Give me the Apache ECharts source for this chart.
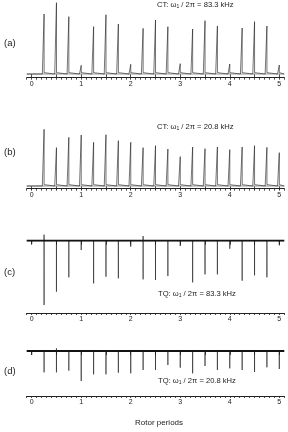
<!DOCTYPE html>
<html><head><meta charset="utf-8">
<script src="https://cdn.jsdelivr.net/npm/echarts@6/dist/echarts.min.js"></script>
<style>html,body{margin:0;padding:0;background:#fff}#c{width:288px;height:432px}</style>
</head><body><div id="c"></div>
<script>
// Rotor period positions of the spikes
const positions = [0,0.25,0.5,0.75,1,1.25,1.5,1.75,2,2.25,2.5,2.75,3,3.25,3.5,3.75,4,4.25,4.5,4.75,5];
// Spike intensities (arbitrary units)
const ctHigh = [0,180,214,172,26,142,178,150,29,137,162,142,31,135,160,144,30,138,157,144,27];
const ctLow  = [0,170,115,146,153,131,154,136,131,115,121,111,88,117,112,117,109,117,121,116,100];
const tqHigh = [-10,-193,-153,-110,-28,-128,-108,-113,-18,-116,-118,-106,-16,-125,-101,-101,-24,-120,-104,-110,-14];
const tqLow  = [-12,-64,-64,-59,-90,-70,-70,-65,-67,-57,-57,-42,-50,-67,-45,-57,-52,-57,-63,-49,-54];
// small opposite-sign tips on the TQ traces
const tqHighTips = [0,18,0,0,0,0,0,0,0,14,0,0,0,0,0,0,0,0,0,0,0];
const tqLowTips  = [0,0,8,0,0,0,0,0,0,0,0,0,0,0,0,0,0,0,0,0,0];
const tickLabels = ['0','1','2','3','4','5'];
const panelLetters = ['(a)','(b)','(c)','(d)'];
const panelTitles = ['CT: ω{s|1} / 2π = 83.3 kHz','CT: ω{s|1} / 2π = 20.8 kHz','TQ: ω{s|1} / 2π = 83.3 kHz','TQ: ω{s|1} / 2π = 20.8 kHz'];
const xTitle = 'Rotor periods';

const FONT = 'Liberation Sans, Arial, sans-serif';
const X0PX = 31.7, X5PX = 279.3, PPU = (X5PX - X0PX) / 5;
const XMIN = -0.1, XMAX = 5.1;
const panels = [
  {data: ctHigh, tips: null, base: 74, axis: 77.7, yMax: 220, feet: 4, baseColor: '#999', baseW: 1, letterY: 44, titleX: 157, titleY: 6},
  {data: ctLow, tips: null, base: 186, axis: 188.7, yMax: 220, feet: 4, baseColor: '#999', baseW: 1, letterY: 153, titleX: 157, titleY: 128},
  {data: tqHigh, tips: tqHighTips, base: 240.7, axis: 313, yMax: 25, feet: 0, baseColor: '#111', baseW: 1.8, letterY: 273, titleX: 158, titleY: 295},
  {data: tqLow, tips: tqLowTips, base: 351, axis: 396, yMax: 25, feet: 0, baseColor: '#111', baseW: 1.8, letterY: 372, titleX: 158, titleY: 382}
];

function spikes(vals, tips, feet) {
  const out = [[XMIN, 0]];
  for (let i = 0; i < positions.length; i++) {
    const x = positions[i], h = vals[i];
    if (h === 0) continue;
    const t = tips ? tips[i] : 0;
    if (feet) {
      out.push([x - 0.035, 0]);
      out.push([x - 0.02, feet]);
      out.push([x - 0.0005, feet]);
    } else {
      out.push([x - 0.0005, 0]);
    }
    if (t) out.push([x - 0.0003, t]);
    out.push([x, h]);
    if (feet) {
      out.push([x + 0.0005, feet]);
      out.push([x + 0.02, feet]);
      out.push([x + 0.035, 0]);
    } else {
      out.push([x + 0.0005, 0]);
    }
  }
  out.push([XMAX, 0]);
  return out;
}

const grids = [], xAxes = [], yAxes = [], series = [], graphics = [];
panels.forEach((p, i) => {
  const yMin = -(p.axis - p.base) * 3;
  const h = (p.yMax - yMin) / 3;
  const top = p.axis - h;
  grids.push({left: X0PX + XMIN * PPU, width: (XMAX - XMIN) * PPU, top: top, height: h});
  xAxes.push({type: 'value', gridIndex: 2 * i, min: XMIN, max: XMAX, interval: 0.1,
    axisLine: {onZero: false, lineStyle: {color: '#222', width: 1}},
    axisTick: {length: 2, lineStyle: {color: '#222', width: 0.8}},
    axisLabel: {show: false}, splitLine: {show: false}});
  yAxes.push({type: 'value', gridIndex: 2 * i, min: yMin, max: p.yMax, show: false, splitLine: {show: false}});
  grids.push({left: X0PX, width: 5 * PPU, top: top, height: h});
  xAxes.push({type: 'value', gridIndex: 2 * i + 1, min: 0, max: 5, interval: 0.5,
    axisLine: {show: false},
    axisTick: {length: 4, lineStyle: {color: '#222', width: 0.8}},
    axisLabel: {fontSize: 7, color: '#222', fontFamily: FONT, margin: 3,
      formatter: v => (Math.abs(v - Math.round(v)) < 1e-6 ? tickLabels[Math.round(v)] : '')},
    splitLine: {show: false}});
  yAxes.push({type: 'value', gridIndex: 2 * i + 1, min: yMin, max: p.yMax, show: false, splitLine: {show: false}});

  series.push({type: 'line', xAxisIndex: 2 * i, yAxisIndex: 2 * i, showSymbol: false, silent: true,
    data: [[XMIN, 0], [XMAX, 0]], lineStyle: {color: p.baseColor, width: p.baseW}, z: 1});
  series.push({type: 'line', xAxisIndex: 2 * i, yAxisIndex: 2 * i, showSymbol: false, silent: true,
    data: spikes(p.data, p.tips, p.feet), lineStyle: {color: '#1a1a1a', width: 0.6, join: 'bevel'}, z: 2});

  graphics.push({type: 'text', left: 4, top: p.letterY - 6,
    style: {text: panelLetters[i], font: '9.5px ' + FONT, fill: '#222'}});
  graphics.push({type: 'text', left: p.titleX, top: p.titleY - 5,
    style: {text: panelTitles[i], font: '7.6px ' + FONT, fill: '#222',
      rich: {s: {fontSize: 5, fontFamily: FONT, fill: '#222', padding: [4, 0, 0, 0]}}}});
});
graphics.push({type: 'text', left: 135, top: 419, style: {text: xTitle, font: '8px ' + FONT, fill: '#222'}});

const chart = echarts.init(document.getElementById('c'), null, {renderer: 'canvas'});
chart.setOption({animation: false, backgroundColor: '#fff', grid: grids, xAxis: xAxes, yAxis: yAxes, series: series, graphic: graphics});
</script></body></html>
